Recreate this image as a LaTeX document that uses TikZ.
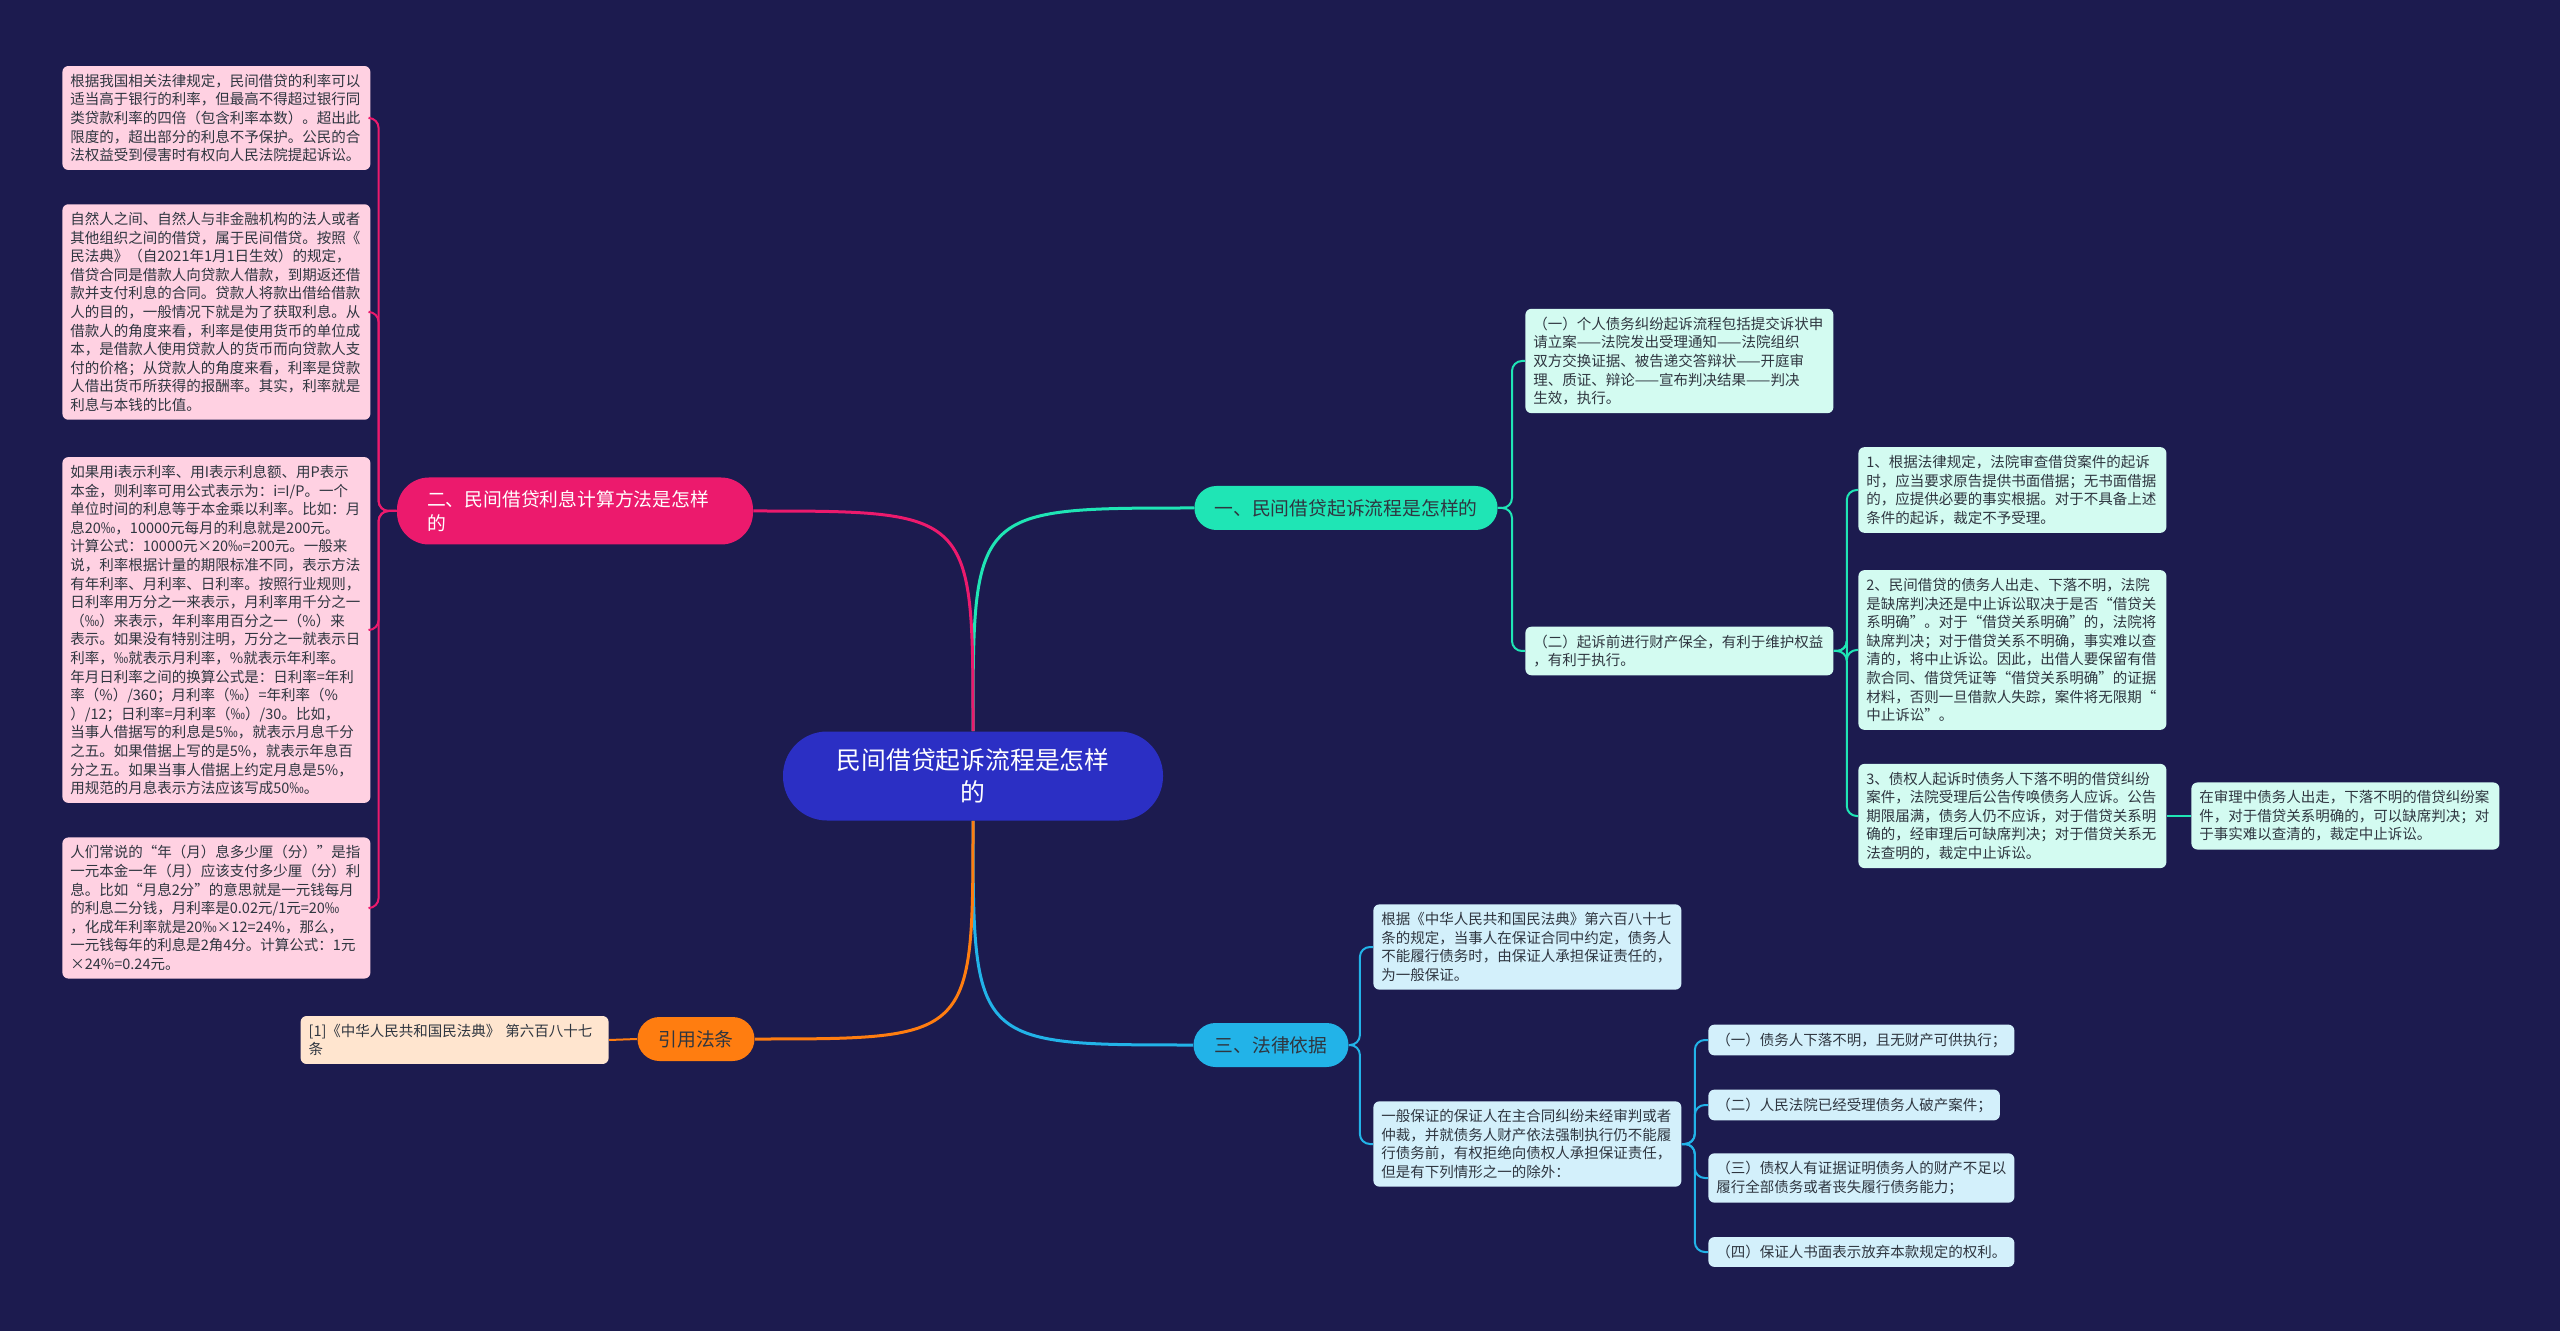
\documentclass[tikz,border=0pt]{standalone}
\usepackage{fontspec}
\setmainfont{Noto Sans CJK SC}
\usetikzlibrary{calc}
\definecolor{Night}{HTML}{1C1B4F}
\definecolor{Core}{HTML}{2B2FC4}
\definecolor{Mint}{HTML}{1FE5B5}
\definecolor{Rose}{HTML}{EC1A6D}
\definecolor{Sky}{HTML}{22B3E8}
\definecolor{Amber}{HTML}{FF7D10}
\definecolor{MintPale}{HTML}{D3FBF1}
\definecolor{RosePale}{HTML}{FFD1E2}
\definecolor{SkyPale}{HTML}{D3F0FB}
\definecolor{AmberPale}{HTML}{FFE5CF}
\definecolor{Ink}{HTML}{2F3640}

\begin{document}
\begin{tikzpicture}[x=0.5pt,y=-0.5pt,
    leaf/.style={fill=#1,rounded corners=3pt,inner xsep=4pt,inner ysep=4pt,text=Ink,align=left,anchor=west,font=\fontsize{7.25pt}{9.3pt}\selectfont},
    wideleaf/.style={leaf=#1,text width=146pt},
    topic/.style={fill=#1,rounded corners=11pt,minimum height=22pt,inner xsep=10pt,text=Ink,font=\fontsize{9.4pt}{12pt}\selectfont},
    stem/.style={draw=#1,line width=1.5pt},
    twig/.style={draw=#1,line width=1pt,rounded corners=5pt}]
  \fill[Night] (0,0) rectangle (2560,1331);
  \useasboundingbox (0,0) rectangle (2560,1331);

  \node[fill=Core,text=white,rounded corners=22pt,minimum width=190pt,minimum height=44.5pt,align=center,font=\fontsize{12.4pt}{16.3pt}\selectfont] (root) at (973,776) {民间借贷起诉流程是怎样\\的};

  \node[topic=Mint,minimum width=151.5pt] (b1) at (1346,508) {一、民间借贷起诉流程是怎样的};
  \node[topic=Rose,text=white,rounded corners=16pt,minimum height=33.5pt,inner xsep=15pt,text width=148pt,align=left] (b2) at (575,511) {二、民间借贷利息计算方法是怎样\\的};
  \node[topic=Sky,minimum width=77.5pt] (b3) at (1271,1045) {三、法律依据};
  \node[topic=Amber,minimum width=58.5pt] (b4) at (696,1039) {引用法条};

  \draw[stem=Mint] (root.north) .. controls (root.north |- b1.west) .. (b1.west);
  \draw[stem=Rose] (root.north) .. controls (root.north |- b2.east) .. (b2.east);
  \draw[stem=Sky] (root.south) .. controls (root.south |- b3.west) .. (b3.west);
  \draw[stem=Amber] (root.south) .. controls (root.south |- b4.east) .. (b4.east);

  \node[wideleaf=RosePale] (p1) at (62,118) {根据我国相关法律规定，民间借贷的利率可以\\适当高于银行的利率，但最高不得超过银行同\\类贷款利率的四倍（包含利率本数）。超出此\\限度的，超出部分的利息不予保护。公民的合\\法权益受到侵害时有权向人民法院提起诉讼。};
  \node[wideleaf=RosePale] (p2) at (62,312) {自然人之间、自然人与非金融机构的法人或者\\其他组织之间的借贷，属于民间借贷。按照《\\民法典》（自2021年1月1日生效）的规定，\\借贷合同是借款人向贷款人借款，到期返还借\\款并支付利息的合同。贷款人将款出借给借款\\人的目的，一般情况下就是为了获取利息。从\\借款人的角度来看，利率是使用货币的单位成\\本，是借款人使用贷款人的货币而向贷款人支\\付的价格；从贷款人的角度来看，利率是贷款\\人借出货币所获得的报酬率。其实，利率就是\\利息与本钱的比值。};
  \node[wideleaf=RosePale] (p3) at (62,630) {如果用i表示利率、用I表示利息额、用P表示\\本金，则利率可用公式表示为：i=I/P。一个\\单位时间的利息等于本金乘以利率。比如：月\\息20‰，10000元每月的利息就是200元。\\计算公式：10000元×20‰=200元。一般来\\说，利率根据计量的期限标准不同，表示方法\\有年利率、月利率、日利率。按照行业规则，\\日利率用万分之一来表示，月利率用千分之一\\（‰）来表示，年利率用百分之一（\%）来\\表示。如果没有特别注明，万分之一就表示日\\利率，‰就表示月利率，\%就表示年利率。\\年月日利率之间的换算公式是：日利率=年利\\率（\%）/360；月利率（‰）=年利率（\%\\）/12；日利率=月利率（‰）/30。比如，\\当事人借据写的利息是5‰，就表示月息千分\\之五。如果借据上写的是5\%，就表示年息百\\分之五。如果当事人借据上约定月息是5\%，\\用规范的月息表示方法应该写成50‰。};
  \node[wideleaf=RosePale] (p4) at (62,908) {人们常说的“年（月）息多少厘（分）”是指\\一元本金一年（月）应该支付多少厘（分）利\\息。比如“月息2分”的意思就是一元钱每月\\的利息二分钱，月利率是0.02元/1元=20‰\\，化成年利率就是20‰×12=24\%，那么，\\一元钱每年的利息是2角4分。计算公式：1元\\×24\%=0.24元。};
  \foreach \p in {p1,p2,p3,p4}
    \draw[twig=Rose] (b2.west) -- ++(-18,0) |- (\p.east);

  \node[wideleaf=AmberPale,anchor=east] (cite) at (609,1040) {[1]《中华人民共和国民法典》 第六百八十七\\条};
  \draw[twig=Amber] (b4.west) -- (cite.east);

  \node[wideleaf=MintPale] (qa) at (1525,361) {（一）个人债务纠纷起诉流程包括提交诉状申\\请立案——法院发出受理通知——法院组织\\双方交换证据、被告递交答辩状——开庭审\\理、质证、辩论——宣布判决结果——判决\\生效，执行。};
  \node[wideleaf=MintPale] (qb) at (1525,651) {（二）起诉前进行财产保全，有利于维护权益\\，有利于执行。};
  \foreach \q in {qa,qb}
    \draw[twig=Mint] (b1.east) -- ++(14,0) |- (\q.west);

  \node[wideleaf=MintPale] (r1) at (1858,490) {1、根据法律规定，法院审查借贷案件的起诉\\时，应当要求原告提供书面借据；无书面借据\\的，应提供必要的事实根据。对于不具备上述\\条件的起诉，裁定不予受理。};
  \node[wideleaf=MintPale] (r2) at (1858,650) {2、民间借贷的债务人出走、下落不明，法院\\是缺席判决还是中止诉讼取决于是否“借贷关\\系明确”。对于“借贷关系明确”的，法院将\\缺席判决；对于借贷关系不明确，事实难以查\\清的，将中止诉讼。因此，出借人要保留有借\\款合同、借贷凭证等“借贷关系明确”的证据\\材料，否则一旦借款人失踪，案件将无限期“\\中止诉讼”。};
  \node[wideleaf=MintPale] (r3) at (1858,816) {3、债权人起诉时债务人下落不明的借贷纠纷\\案件，法院受理后公告传唤债务人应诉。公告\\期限届满，债务人仍不应诉，对于借贷关系明\\确的，经审理后可缺席判决；对于借贷关系无\\法查明的，裁定中止诉讼。};
  \node[wideleaf=MintPale] (r3x) at (2191,816) {在审理中债务人出走，下落不明的借贷纠纷案\\件，对于借贷关系明确的，可以缺席判决；对\\于事实难以查清的，裁定中止诉讼。};
  \foreach \r in {r1,r2,r3}
    \draw[twig=Mint] (qb.east) -- ++(13,0) |- (\r.west);
  \draw[twig=Mint] (r3.east) -- (r3x.west);

  \node[wideleaf=SkyPale] (l1) at (1373,947) {根据《中华人民共和国民法典》第六百八十七\\条的规定，当事人在保证合同中约定，债务人\\不能履行债务时，由保证人承担保证责任的，\\为一般保证。};
  \node[wideleaf=SkyPale] (l2) at (1373,1144) {一般保证的保证人在主合同纠纷未经审判或者\\仲裁，并就债务人财产依法强制执行仍不能履\\行债务前，有权拒绝向债权人承担保证责任，\\但是有下列情形之一的除外：};
  \foreach \l in {l1,l2}
    \draw[twig=Sky] (b3.east) -- ++(11,0) |- (\l.west);

  \node[leaf=SkyPale] (s1) at (1708,1040) {（一）债务人下落不明，且无财产可供执行；};
  \node[leaf=SkyPale] (s2) at (1708,1105) {（二）人民法院已经受理债务人破产案件；};
  \node[leaf=SkyPale] (s3) at (1708,1178) {（三）债权人有证据证明债务人的财产不足以\\履行全部债务或者丧失履行债务能力；};
  \node[leaf=SkyPale] (s4) at (1708,1252) {（四）保证人书面表示放弃本款规定的权利。};
  \foreach \s in {s1,s2,s3,s4}
    \draw[twig=Sky] (l2.east) -- ++(13,0) |- (\s.west);
\end{tikzpicture}
\end{document}
